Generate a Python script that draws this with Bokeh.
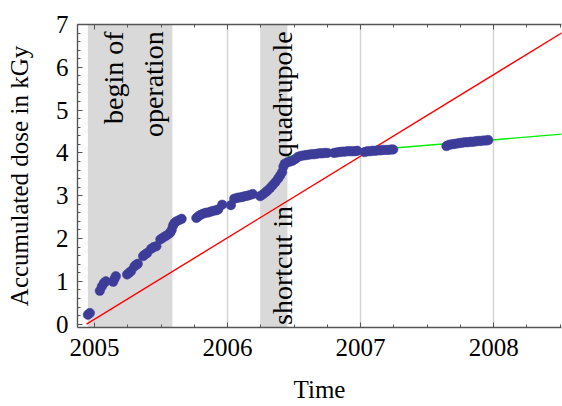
from math import pi
from bokeh.plotting import figure
from bokeh.models import Range1d, LinearAxis, FixedTicker, Label
from bokeh.embed import file_html
from bokeh.resources import INLINE

# measured accumulated dose (kGy) vs time (years)
times = [
    2004.950, 2004.965, 2005.040, 2005.055, 2005.070, 2005.085, 2005.140, 2005.150,
    2005.160, 2005.245, 2005.260, 2005.275, 2005.300, 2005.315, 2005.325, 2005.365,
    2005.380, 2005.395, 2005.425, 2005.445, 2005.465, 2005.495, 2005.515, 2005.535,
    2005.555, 2005.570, 2005.580, 2005.590, 2005.600, 2005.615, 2005.635, 2005.655,
    2005.765, 2005.780, 2005.795, 2005.815, 2005.835, 2005.855, 2005.875, 2005.895,
    2005.915, 2005.930, 2005.960, 2006.025, 2006.050, 2006.070, 2006.090, 2006.110,
    2006.130, 2006.150, 2006.170, 2006.190, 2006.245, 2006.265, 2006.285, 2006.300,
    2006.320, 2006.340, 2006.360, 2006.380, 2006.395, 2006.410, 2006.420, 2006.430,
    2006.450, 2006.470, 2006.490, 2006.510, 2006.530, 2006.550, 2006.570, 2006.590,
    2006.610, 2006.630, 2006.650, 2006.670, 2006.690, 2006.710, 2006.730, 2006.750,
    2006.800, 2006.820, 2006.840, 2006.860, 2006.880, 2006.900, 2006.920, 2006.940,
    2006.960, 2006.975, 2007.030, 2007.050, 2007.070, 2007.090, 2007.110, 2007.130,
    2007.150, 2007.170, 2007.190, 2007.210, 2007.230, 2007.245, 2007.645, 2007.665,
    2007.685, 2007.705, 2007.725, 2007.745, 2007.765, 2007.785, 2007.805, 2007.825,
    2007.845, 2007.865, 2007.885, 2007.905, 2007.925, 2007.945, 2007.960,
]
dose = [
    0.22, 0.26, 0.78, 0.88, 0.96, 1.00, 0.99, 1.06,
    1.12, 1.16, 1.20, 1.24, 1.35, 1.39, 1.41, 1.59,
    1.63, 1.66, 1.76, 1.80, 1.82, 1.98, 2.02, 2.06,
    2.10, 2.14, 2.20, 2.30, 2.36, 2.40, 2.43, 2.46,
    2.48, 2.52, 2.55, 2.58, 2.60, 2.61, 2.63, 2.65,
    2.66, 2.68, 2.79, 2.78, 2.93, 2.95, 2.96, 2.97,
    2.99, 3.00, 3.02, 3.04, 2.99, 3.03, 3.08, 3.12,
    3.18, 3.25, 3.32, 3.40, 3.47, 3.55, 3.68, 3.75,
    3.78, 3.80, 3.82, 3.86, 3.91, 3.93, 3.94, 3.95,
    3.96, 3.97, 3.97, 3.98, 3.99, 3.99, 4.00, 4.00,
    4.00, 4.01, 4.02, 4.03, 4.03, 4.04, 4.04, 4.04,
    4.04, 4.05, 4.02, 4.04, 4.04, 4.05, 4.05, 4.06,
    4.06, 4.07, 4.07, 4.07, 4.08, 4.08, 4.16, 4.19,
    4.20, 4.21, 4.22, 4.23, 4.24, 4.25, 4.25, 4.26,
    4.26, 4.27, 4.28, 4.28, 4.29, 4.29, 4.30,
]

# linear trends
red_t = [2004.94, 2008.52]
red_y = [0.0, 6.82]
green_t = [2006.45, 2008.52]
green_y = [3.91, 4.44]

# shaded periods
band_left = [2004.95, 2006.245]
band_right = [2005.585, 2006.45]

year_ticks = [2005, 2006, 2007, 2008]
year_minor = [2004.75 + 0.25 * i for i in range(16)]
dose_ticks = [0, 1, 2, 3, 4, 5, 6, 7]
dose_minor = [round(0.2 * i, 1) for i in range(36)]

FONT = "'Liberation Serif', 'Times New Roman', serif"
AX = "#555555"

p = figure(width=562, height=406,
           x_range=Range1d(2004.872, 2008.51), y_range=Range1d(-0.078, 7.0),
           output_backend="svg", toolbar_location=None,
           min_border_left=77, min_border_right=1, min_border_top=24, min_border_bottom=79)
p.outline_line_color = None
p.background_fill_color = "white"

# grid
p.ygrid.visible = False
p.xgrid.ticker = FixedTicker(ticks=year_ticks)
p.xgrid.grid_line_color = "#d4d4d4"
p.xgrid.grid_line_width = 1.5

# bands
p.quad(left=band_left, right=band_right, bottom=-1, top=8,
       fill_color="#d9d9d9", line_color=None)

# lines
p.line(red_t, red_y, line_color="#ff0000", line_width=1.4)
p.line(green_t, green_y, line_color="#00ee00", line_width=1.4)

# data
p.scatter(times, dose, size=9.5, fill_color="#3d3d99", line_color="#3d3d99", line_width=0.5)

def style(ax, labels=True):
    ax.axis_line_color = AX
    ax.axis_line_width = 1.4
    ax.major_tick_line_color = AX
    ax.minor_tick_line_color = AX
    ax.major_tick_in = 5
    ax.major_tick_out = 0
    ax.minor_tick_in = 3
    ax.minor_tick_out = 0
    ax.major_label_text_font = FONT
    ax.major_label_text_color = "black"
    ax.major_label_text_font_size = "25px" if labels else "0px"
    ax.axis_label_text_font = FONT
    ax.axis_label_text_font_size = "25px"
    ax.axis_label_text_font_style = "normal"
    ax.axis_label_text_color = "black"

xa = p.xaxis[0]
xa.ticker = FixedTicker(ticks=year_ticks, minor_ticks=year_minor)
xa.axis_label = "Time"
style(xa)
xa.major_label_standoff = 11
xa.axis_label_standoff = 17

ya = p.yaxis[0]
ya.ticker = FixedTicker(ticks=dose_ticks, minor_ticks=dose_minor)
ya.axis_label = "Accumulated dose in kGy"
style(ya)
ya.major_label_standoff = 9
ya.axis_label_standoff = 20

top = LinearAxis(ticker=FixedTicker(ticks=year_ticks, minor_ticks=year_minor))
style(top, labels=False)
p.add_layout(top, "above")

# band annotations
def vlabel(text, x, y, align):
    p.add_layout(Label(x=x, y=y, text=text, angle=pi / 2, text_align=align,
                       text_baseline="alphabetic", text_font=FONT,
                       text_font_size="28px", text_color="black"))

vlabel("begin of", 2005.142, 6.84, "right")
vlabel("operation", 2005.443, 6.84, "right")
vlabel("quadrupole", 2006.412, 6.84, "right")
vlabel("shortcut in", 2006.412, -0.02, "left")

open("out.html", "w").write(file_html(p, INLINE))
